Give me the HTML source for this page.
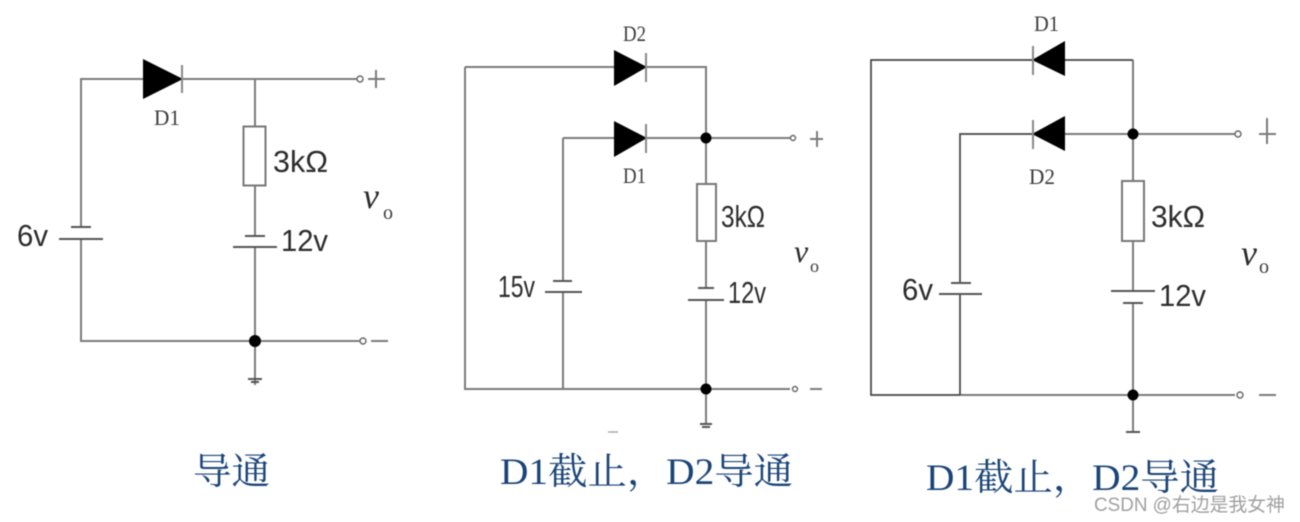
<!DOCTYPE html>
<html><head><meta charset="utf-8">
<style>
html,body{margin:0;padding:0;background:#fff;width:1300px;height:522px;overflow:hidden}
svg{display:block;filter:blur(.45px)}
.w{fill:none;stroke:#7b7b7b;stroke-width:2}
.d{fill:none;stroke:#444;stroke-width:1.700}
.p{fill:none;stroke:#555;stroke-width:2}
.r{fill:#fff;stroke:#777;stroke-width:2}
.t{fill:#fff;stroke:#666;stroke-width:1.400}
.b{fill:none;stroke:#888;stroke-width:2}
.s{font-family:"Liberation Sans",sans-serif;font-size:31px;fill:#2c2c2c}
.n{font-family:"Liberation Serif",serif;font-size:22px;fill:#3c3c3c}
.v{font-family:"Liberation Serif",serif;font-style:italic;font-size:36px;fill:#2c2c2c}
.o{font-family:"Liberation Serif",serif;font-size:20px;fill:#3c3c3c}
.c{font-family:"Liberation Serif","Noto Serif CJK SC",serif;font-size:37px;fill:#1a4478}
.m{font-family:"Liberation Sans","Noto Sans CJK SC",sans-serif;font-size:19px;fill:#a0a0a0}
</style></head><body>
<svg width="1300" height="522" viewBox="0 0 1300 522" xmlns="http://www.w3.org/2000/svg">
<rect width="1300" height="522" fill="#fff"/>

<!-- Circuit 1 -->
<path class="w" d="M81 227V79H360M81 239V341H360M255 79V126M255 186V236M255 247V385"/>
<polygon points="143,59 143,99 183,79" fill="#000"/>
<path class="b" d="M182 65V93"/>
<rect class="r" x="243.500" y="126.500" width="22" height="59"/>
<path class="p" d="M71 227H91M59 239H103M245 236H265M233 247H277"/>
<circle cx="255" cy="341" r="6" fill="#000"/>
<path class="p" d="M248 379H262M251 382H259" stroke-width="1.500"/>
<circle class="t" cx="360" cy="79" r="3"/><circle class="t" cx="363" cy="341" r="3"/>
<path class="w" d="M368 79H385M376 70V88M371 341H388"/>
<text class="n" x="154" y="125" textLength="26" lengthAdjust="spacingAndGlyphs">D1</text>
<text class="s" x="273" y="172" textLength="55" lengthAdjust="spacingAndGlyphs">3kΩ</text>
<text class="s" x="17" y="246" textLength="31" lengthAdjust="spacingAndGlyphs">6v</text>
<text class="s" x="281" y="251" textLength="47" lengthAdjust="spacingAndGlyphs">12v</text>
<text class="v" x="363" y="208">v</text><text class="o" x="383" y="219">o</text>

<!-- Circuit 2 -->
<path class="w" d="M465 67H706V389M465 67V389H790M563 138H790M563 138V281M563 292V389M706 389V424"/>
<polygon points="614,50 614,86 647,67" fill="#000"/>
<polygon points="614,121 614,157 647,138" fill="#000"/>
<path class="b" d="M646 53V82M646 124V153"/>
<rect class="r" x="697" y="184" width="19" height="57"/>
<path class="p" d="M553 281H572M545 292H582M698 288H714M688 300H724"/>
<rect x="700" y="289" width="12" height="10" fill="#fff"/>
<circle cx="706" cy="138" r="5.500" fill="#000"/><circle cx="706" cy="389" r="5.500" fill="#000"/>
<path class="p" d="M700 424H712M702 427H710" stroke-width="1.500"/>
<path d="M608 432H618" stroke="#aaa" stroke-width="1.500"/>
<circle class="t" cx="793" cy="138" r="2.500"/><circle class="t" cx="795" cy="389" r="2.500"/>
<path class="w" d="M810 139H823M817 131V147M810 389H822"/>
<text class="n" x="623" y="41" textLength="23" lengthAdjust="spacingAndGlyphs">D2</text>
<text class="n" x="623" y="183" textLength="23" lengthAdjust="spacingAndGlyphs">D1</text>
<text class="s" x="721" y="227" textLength="44" lengthAdjust="spacingAndGlyphs">3kΩ</text>
<text class="s" x="728" y="303" textLength="38" lengthAdjust="spacingAndGlyphs">12v</text>
<text class="s" x="498" y="297" textLength="37" lengthAdjust="spacingAndGlyphs">15v</text>
<text class="v" x="794" y="262" style="font-size:32px">v</text><text class="o" x="810" y="272" style="font-size:18px">o</text>

<!-- Circuit 3 -->
<path class="w" d="M960 395H1235M1133 60V291M1133 303V432M1065 134H1235"/>
<path class="d" d="M1133 60H871V395H960M1033 134H960V283M960 294V395"/>
<polygon points="1065,41 1065,76 1032,60" fill="#000"/>
<polygon points="1065,116 1065,151 1032,134" fill="#000"/>
<path class="b" d="M1033 46V75M1033 120V149"/>
<rect class="r" x="1122" y="181" width="22" height="60"/>
<path class="p" d="M951 283H971M939 294H982M1111 291H1155M1123 303H1143"/>
<rect x="1127" y="292" width="12" height="10" fill="#fff"/>
<circle cx="1133" cy="134" r="5.500" fill="#000"/><circle cx="1133" cy="395" r="5.500" fill="#000"/>
<path class="p" d="M1126 432H1140"/>
<circle class="t" cx="1238" cy="134" r="3"/><circle class="t" cx="1240" cy="395" r="3"/>
<path class="w" d="M1259 134H1276M1267 118V144M1259 395H1276"/>
<text class="n" x="1034" y="31" textLength="25" lengthAdjust="spacingAndGlyphs">D1</text>
<text class="n" x="1029" y="184" textLength="26" lengthAdjust="spacingAndGlyphs">D2</text>
<text class="s" x="1151" y="227" textLength="54" lengthAdjust="spacingAndGlyphs">3kΩ</text>
<text class="s" x="1159" y="306" textLength="47" lengthAdjust="spacingAndGlyphs">12v</text>
<text class="s" x="902" y="300" textLength="31" lengthAdjust="spacingAndGlyphs">6v</text>
<text class="v" x="1241" y="265">v</text><text class="o" x="1259" y="273">o</text>

<!-- Captions -->
<text class="c" x="193" y="484" textLength="77" lengthAdjust="spacingAndGlyphs">导通</text>
<text class="c" x="500" y="484" textLength="293" lengthAdjust="spacingAndGlyphs">D1截止，D2导通</text>
<text class="c" x="926" y="490" textLength="293" lengthAdjust="spacingAndGlyphs">D1截止，D2导通</text>
<text class="m" x="1094" y="511" textLength="191" lengthAdjust="spacingAndGlyphs">CSDN @右边是我女神</text>
</svg>
</body></html>
